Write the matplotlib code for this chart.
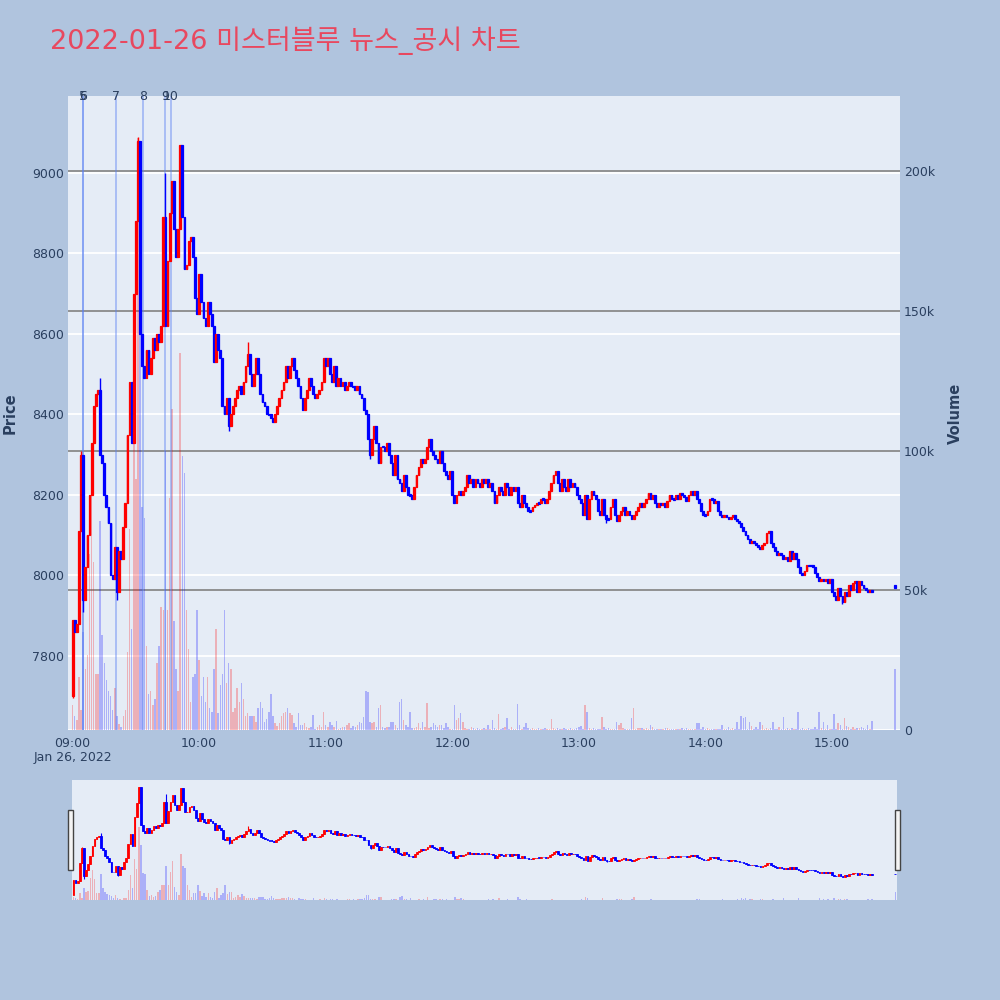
import matplotlib
matplotlib.use('Agg')
import matplotlib.pyplot as plt
import matplotlib.dates as mdates
import matplotlib.transforms as mtransforms
from matplotlib.patches import Rectangle
import pandas as pd

plt.rcParams['font.family'] = ['DejaVu Sans', 'Noto Sans CJK KR']

title = '2022-01-26 미스터블루 뉴스_공시 차트'
session_start = '2022-01-26 09:00'
first_open = 7700
closes = [
    7890, 7860, 7880, 8110, 8300, 7940, 8020, 8100, 8200, 8330,
    8420, 8450, 8460, 8300, 8280, 8200, 8170, 8130, 8000, 7990,
    8070, 7960, 8060, 8040, 8120, 8180, 8350, 8480, 8330, 8700,
    8880, 9080, 8600, 8520, 8490, 8560, 8500, 8540, 8590, 8560,
    8600, 8580, 8620, 8890, 8620, 8780, 8900, 8980, 8860, 8790,
    8860, 9070, 8890, 8760, 8770, 8830, 8840, 8790, 8690, 8650,
    8750, 8680, 8640, 8620, 8680, 8650, 8620, 8530, 8600, 8560,
    8540, 8420, 8400, 8440, 8370, 8400, 8420, 8440, 8460, 8470,
    8450, 8480, 8520, 8550, 8500, 8470, 8500, 8540, 8500, 8450,
    8430, 8420, 8400, 8400, 8390, 8380, 8400, 8420, 8440, 8460,
    8480, 8520, 8490, 8520, 8540, 8510, 8490, 8470, 8440, 8410,
    8440, 8460, 8490, 8470, 8450, 8440, 8450, 8460, 8480, 8540,
    8520, 8540, 8500, 8480, 8520, 8470, 8490, 8470, 8480, 8460,
    8470, 8480, 8470, 8470, 8460, 8470, 8450, 8440, 8410, 8400,
    8340, 8300, 8340, 8370, 8330, 8280, 8320, 8320, 8310, 8330,
    8300, 8280, 8250, 8300, 8240, 8230, 8210, 8250, 8220, 8200,
    8200, 8190, 8220, 8250, 8270, 8290, 8280, 8290, 8320, 8340,
    8310, 8300, 8290, 8280, 8310, 8280, 8260, 8250, 8240, 8260,
    8200, 8180, 8200, 8210, 8200, 8210, 8220, 8250, 8230, 8240,
    8220, 8240, 8230, 8220, 8240, 8230, 8240, 8220, 8230, 8210,
    8180, 8200, 8220, 8210, 8200, 8230, 8220, 8200, 8220, 8210,
    8220, 8180, 8170, 8200, 8180, 8170, 8160, 8160, 8170, 8175,
    8180, 8180, 8190, 8190, 8180, 8190, 8210, 8230, 8250, 8260,
    8230, 8210, 8240, 8220, 8210, 8240, 8220, 8230, 8220, 8200,
    8190, 8180, 8150, 8200, 8140, 8190, 8210, 8200, 8190, 8160,
    8150, 8190, 8150, 8140, 8140, 8170, 8190, 8150, 8135, 8150,
    8160, 8170, 8150, 8160, 8150, 8140, 8150, 8160, 8170, 8180,
    8170, 8180, 8190, 8205, 8190, 8200, 8180, 8170, 8180, 8175,
    8180, 8170, 8185, 8200, 8190, 8190, 8200, 8190, 8205, 8200,
    8195, 8185, 8200, 8210, 8200, 8210, 8190, 8180, 8160, 8150,
    8150, 8160, 8190, 8190, 8180, 8185, 8160, 8150, 8145, 8150,
    8145, 8140, 8145, 8150, 8140, 8135, 8130, 8120, 8110, 8100,
    8090, 8080, 8085, 8080, 8075, 8070, 8065, 8075, 8080, 8105,
    8110, 8080, 8070, 8060, 8050, 8055, 8050, 8040, 8045, 8035,
    8060, 8040, 8055, 8040, 8020, 8005, 8000, 8010, 8025, 8025,
    8025, 8020, 8005, 7995, 7985, 7990, 7985, 7990, 7980, 7990,
    7960, 7950, 7940, 7970, 7950, 7935, 7960, 7950, 7975, 7965,
    7980, 7985, 7960, 7985, 7975, 7970, 7965, 7960, 7965, 7960,
]
volumes_k = [
    9, 5, 3.6, 19, 7, 35, 22, 27, 63, 88,
    60, 20, 20, 75, 34, 24, 18, 14, 12, 7,
    15, 5, 2, 1, 5, 7, 28, 72, 36, 120,
    90, 212, 160, 80, 76, 30, 13, 14, 9, 11,
    24, 30, 44, 43, 100, 43, 83, 115, 39, 22,
    14, 135, 98, 92, 43, 29, 10, 19, 20, 43,
    25, 12, 19, 10, 19, 8, 6.6, 22, 36, 6,
    16, 20, 43, 17, 24, 22, 6.6, 8, 15, 10,
    17, 11, 5, 6, 5, 5, 5, 3, 8, 10,
    8, 3, 4, 6.6, 13, 5, 2.4, 1.5, 2.4, 5,
    6, 6.6, 8, 6, 5.4, 2.4, 1, 6, 1.8, 1.8,
    2.4, 1, 0.6, 1, 5.4, 0.5, 1.2, 1.8, 1, 6.6,
    1.8, 1, 3, 1.8, 1, 3.2, 0.5, 0.8, 1.2, 1,
    1.8, 2.4, 0.8, 1.6, 1.2, 1.8, 3, 2.4, 4.5, 14,
    13.5, 3, 2.4, 3, 1, 8, 9, 1, 0.8, 1.2,
    1.2, 3, 3, 1.8, 0.6, 10, 11, 3.6, 1.8, 1,
    6.6, 0.6, 0.6, 1.2, 2.4, 0.8, 3, 1, 9.6, 0.8,
    1.2, 2.4, 1.8, 1, 1.8, 1.8, 0.6, 2.4, 1.2, 0.5,
    0.5, 9, 3.6, 4.2, 6, 3, 0.6, 0.5, 0.5, 1.2,
    0.6, 0.3, 0.6, 0.3, 0.3, 0.6, 0.3, 1.8, 0.5, 3.6,
    0.6, 0.3, 5.6, 0.3, 0.6, 1.2, 4.2, 0.5, 1.2, 0.3,
    0.5, 9.4, 1.8, 0.5, 1.2, 2.4, 0.8, 0.3, 0.6, 0.3,
    0.3, 0.6, 0.3, 0.3, 0.6, 0.3, 0.3, 3.8, 0.6, 0.3,
    0.6, 0.3, 0.3, 0.6, 0.3, 0.3, 0.6, 0.3, 0.3, 0.8,
    1.2, 1.6, 0.5, 8.8, 6.3, 0.6, 0.3, 0.6, 0.3, 0.3,
    0.3, 4.8, 1.2, 0.3, 0.6, 0.3, 0.3, 0.3, 3, 1.8,
    2.4, 0.6, 0.3, 0.3, 0.3, 4.2, 8, 0.3, 0.8, 0.8,
    0.6, 0.3, 0.6, 0.3, 1.8, 1.2, 0.3, 0.3, 0.3, 0.3,
    0.3, 0.6, 0.6, 0.3, 0.3, 0.3, 0.3, 0.3, 0.3, 0.6,
    0.3, 0.6, 0.3, 0.3, 0.3, 0.3, 2.4, 2.4, 0.3, 1.2,
    0.3, 0.8, 0.3, 0.3, 0.3, 0.3, 0.3, 0.3, 1.8, 0.3,
    0.3, 1, 0.3, 0.6, 0.3, 3, 0.5, 5, 4.2, 4.8,
    0.5, 3, 1.6, 0.3, 1.2, 0.3, 3, 1.8, 0.3, 0.6,
    0.3, 0.6, 3, 0.3, 0.3, 1.2, 0.3, 4.8, 0.3, 0.6,
    0.3, 0.6, 0.3, 0.3, 6.6, 0.3, 0.6, 0.3, 0.3, 0.6,
    0.3, 0.3, 1.2, 0.3, 6.6, 0.6, 3, 0.3, 1.8, 0.3,
    0.3, 5.7, 0.3, 2.4, 1.8, 0.3, 4.2, 1.6, 1.2, 0.3,
    1.2, 0.3, 0.8, 0.8, 1.2, 0.8, 0.3, 1.8, 0.3, 3.4,
]
# closing auction (15:30)
close_time = '2022-01-26 15:30'
close_auction_open = 7975
close_auction_price = 7970
close_auction_vol_k = 22

# wick extremes (minute index -> price)
high_ext = {31: 9090, 44: 9000, 51: 9070, 47: 8980, 83: 8580, 13: 8490, 4: 8310}
low_ext = {0: 7695, 5: 7910, 21: 7940, 74: 8360, 141: 8290, 365: 7930, 253: 8130}

news_labels = ['5', '6', '7', '8', '9', '10']
news_times = ['09:05:00', '09:05:00', '09:20:30', '09:33:20', '09:43:40', '09:46:40']

price_ticks = [7800, 8000, 8200, 8400, 8600, 8800, 9000]
vol_ticks = [0, 50000, 100000, 150000, 200000]
vol_tick_labels = ['0', '50k', '100k', '150k', '200k']
hour_ticks = ['09:00', '10:00', '11:00', '12:00', '13:00', '14:00', '15:00']

# ---------- build series ----------
times = list(pd.date_range(session_start, periods=len(closes), freq='min'))
times.append(pd.Timestamp(close_time))
opens = [first_open] + closes[:-1] + [close_auction_open]
cl = closes + [close_auction_price]
vols = [v * 1000 for v in volumes_k] + [close_auction_vol_k * 1000]
highs = [max(o, c) for o, c in zip(opens, cl)]
lows = [min(o, c) for o, c in zip(opens, cl)]
for k, v in high_ext.items():
    highs[k] = max(highs[k], v)
for k, v in low_ext.items():
    lows[k] = min(lows[k], v)
xs = mdates.date2num(times)
one_min = 1.0 / 1440

UP = '#FF0000'
DOWN = '#0000FF'
TXT = '#2a3f5f'
PLOT_BG = '#E5ECF6'

fig = plt.figure(figsize=(10, 10), dpi=100)
fig.patch.set_facecolor('#B0C4DE')

ax_vol = fig.add_axes([0.068, 0.270, 0.832, 0.634])
ax = ax_vol.twinx()
ax_vol.set_facecolor(PLOT_BG)
ax.patch.set_visible(False)
ax.yaxis.tick_left()
ax_vol.yaxis.tick_right()
ax.set_zorder(ax_vol.get_zorder() + 1)

x0 = mdates.date2num(pd.Timestamp(session_start)) - 2.2 * one_min
x1 = mdates.date2num(pd.Timestamp(session_start)) + 392.3 * one_min
ax.set_xlim(x0, x1)
ax_vol.set_xlim(x0, x1)
ax.set_ylim(7616, 9191)
ax_vol.set_ylim(0, 227000)

blend = mtransforms.blended_transform_factory(ax_vol.transAxes, ax.transData)
for p in price_ticks:
    ax_vol.plot([0, 1], [p, p], color='white', lw=1.3, transform=blend, zorder=0.5)
for v in vol_ticks:
    c = 'white' if v == 0 else '#8a8a8a'
    ax_vol.axhline(v, color=c, lw=1.3, zorder=0.6)

colors = [UP if c > o else DOWN for o, c in zip(opens, cl)]
vcolors = [(1, 0, 0, 0.25) if c == UP else (0, 0, 1, 0.25) for c in colors]
ax_vol.bar(xs, vols, width=0.7 * one_min, color=vcolors, zorder=1, linewidth=0)


def draw_candles(a, body_w, wick_lw, edge_lw, minh):
    for x, o, c, h, l, col in zip(xs, opens, cl, highs, lows, colors):
        a.vlines(x, l, h, color=col, lw=wick_lw, zorder=3)
        bottom = min(o, c)
        height = max(abs(c - o), minh)
        a.bar(x, height, bottom=bottom - (height - abs(c - o)) / 2, width=body_w * one_min,
              color=col, edgecolor=col, linewidth=edge_lw, zorder=4)


draw_candles(ax, 0.85, 1.0, 0.9, 3)

# news lines
tr_news = mtransforms.blended_transform_factory(ax.transData, ax.transAxes)
for lab, t in zip(news_labels, news_times):
    xn = mdates.date2num(pd.Timestamp('2022-01-26 ' + t))
    ax.axvline(xn, color=(0.35, 0.5, 0.95, 0.5), lw=1.2, zorder=2)
    ax.text(xn, 1.0, lab, transform=tr_news, ha='center', va='center', fontsize=9, color=TXT)

for a in (ax, ax_vol):
    for s in a.spines.values():
        s.set_visible(False)
ax.set_yticks(price_ticks)
ax.set_yticklabels([str(p) for p in price_ticks])
ax.tick_params(axis='y', length=0, pad=3, labelsize=9, labelcolor=TXT)
ax_vol.set_yticks(vol_ticks)
ax_vol.set_yticklabels(vol_tick_labels)
ax_vol.tick_params(axis='y', length=0, pad=3, labelsize=9, labelcolor=TXT)

hour_nums = [mdates.date2num(pd.Timestamp('2022-01-26 ' + h)) for h in hour_ticks]
ax_vol.set_xticks(hour_nums)
ax_vol.set_xticklabels(hour_ticks)
ax_vol.tick_params(axis='x', length=0, pad=5, labelsize=9, labelcolor=TXT)

fig.text(0.073, 0.242, 'Jan 26, 2022', ha='center', va='center', fontsize=9, color=TXT)
fig.text(0.010, 0.587, 'Price', rotation=90, ha='center', va='center', fontsize=10.5,
         fontweight='bold', color=TXT)
fig.text(0.955, 0.587, 'Volume', rotation=90, ha='center', va='center', fontsize=10.5,
         fontweight='bold', color=TXT)
fig.text(0.050, 0.959, title, ha='left', va='center', fontsize=19.5, color='#E8485F')

# ---------- range slider ----------
rs_vol = fig.add_axes([0.072, 0.100, 0.825, 0.120])
rs = rs_vol.twinx()
rs_vol.set_facecolor(PLOT_BG)
rs.patch.set_visible(False)
rs.set_zorder(rs_vol.get_zorder() + 1)
for a in (rs, rs_vol):
    a.set_xlim(x0 + 1.5 * one_min, x1 - 1.5 * one_min)
    a.set_xticks([])
    a.set_yticks([])
    for s in a.spines.values():
        s.set_visible(False)
rs.set_ylim(7636, 9176)
rs_vol.set_ylim(0, 350000)
rs_vol.bar(xs, vols, width=0.7 * one_min, color=vcolors, linewidth=0)
draw_candles(rs, 0.8, 0.8, 0.6, 4)

for xl in (0.068, 0.895):
    fig.patches.append(Rectangle((xl, 0.130), 0.005, 0.060, transform=fig.transFigure,
                                 facecolor='#f4f4f4', edgecolor='#444444', lw=1.0, zorder=10))

fig.savefig('out.png', dpi=100, facecolor=fig.get_facecolor())
